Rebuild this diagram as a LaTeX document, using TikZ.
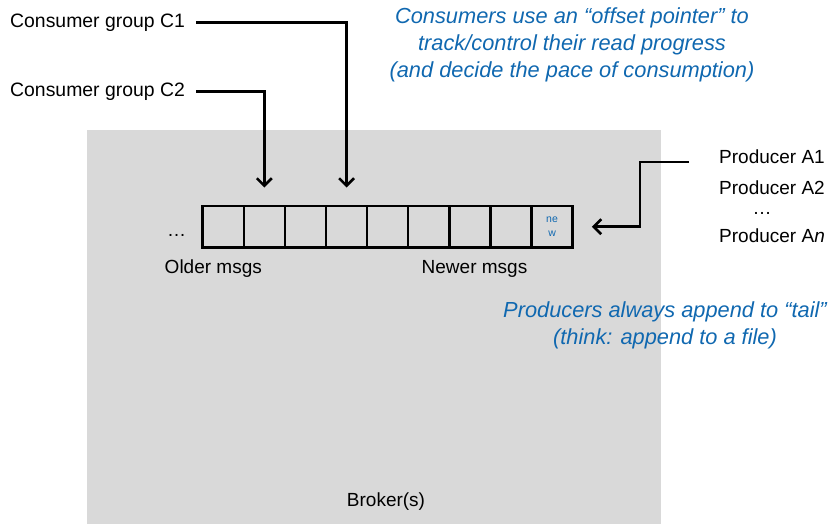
\documentclass[tikz,border=0pt]{standalone}
\usepackage{fontspec}
\setmainfont{Liberation Sans}
\usetikzlibrary{arrows.meta}
\definecolor{brokergray}{HTML}{D9D9D9}
\definecolor{noteblue}{RGB}{16,104,176}
\begin{document}
\begin{tikzpicture}[x=1pt,y=-1pt,
  lbl/.style={font=\fontsize{19}{23}\selectfont, inner sep=0pt},
  note/.style={font=\fontsize{21.8}{27}\selectfont\itshape, text=noteblue, align=center, inner sep=0pt},
  cell/.style={draw, line width=2.5pt, minimum width=41.1pt, minimum height=41.3pt, inner sep=0pt, outer sep=0pt},
  ptr/.style={line width=2.6pt, -{Straight Barb[length=7.5pt,width=15pt,line width=2.6pt]}}]
\useasboundingbox (0,0) rectangle (835,524);
\fill[brokergray] (87,130) rectangle (661,524);
% message log
\foreach \i in {1,...,8} \node[cell] (c\i) at ({202.7+41.1*(\i-0.5)},226.7) {};
\node[cell, font=\fontsize{10.5}{13.5}\selectfont, text=noteblue, align=center] (c9) at ({202.7+41.1*8.5},226.7) {ne\\w};
\node[lbl, anchor=base] (ldots) at (176.5,236.5) {…};
\node[lbl, anchor=base] (older) at (213.3,273.5) {Older msgs};
\node[lbl, anchor=base] (newer) at (474.5,273.5) {Newer msgs};
\node[lbl, anchor=base] (broker) at (386,506) {Broker(s)};
% consumers
\node[lbl, font=\fontsize{19.4}{23}\selectfont, anchor=base west] (cg1) at (10,27.5) {Consumer group C1};
\node[lbl, font=\fontsize{19.4}{23}\selectfont, anchor=base west] (cg2) at (10,96.5) {Consumer group C2};
\draw[ptr, shorten <=11pt, shorten >=18.5pt] (cg1.east) -| (c4.north);
\draw[ptr, shorten <=11pt, shorten >=18.5pt] (cg2.east) -| (c2.north);
% producers
\node[lbl, anchor=base west] (pa1) at (719,164) {Producer A1};
\node[lbl, anchor=base west] (pa2) at (719,194) {Producer A2};
\node[lbl, anchor=base] (pdots) at (762,214) {…};
\node[lbl, anchor=base west] (pan) at (719,242) {Producer A\textit{n}};
\coordinate (pstart) at (689,162);
\coordinate (pturn) at (640,162);
\draw[ptr, shorten >=19.3pt] (pstart) -- (pturn) |- (c9.east);
% notes
\node[note] (note1) at (572,45) {Consumers use an “offset pointer” to\\track/control their read progress\\(and decide the pace of consumption)};
\node[note] (note2) at (665,325) {Producers always append to “tail”\\(think: append to a file)};
\end{tikzpicture}
\end{document}
